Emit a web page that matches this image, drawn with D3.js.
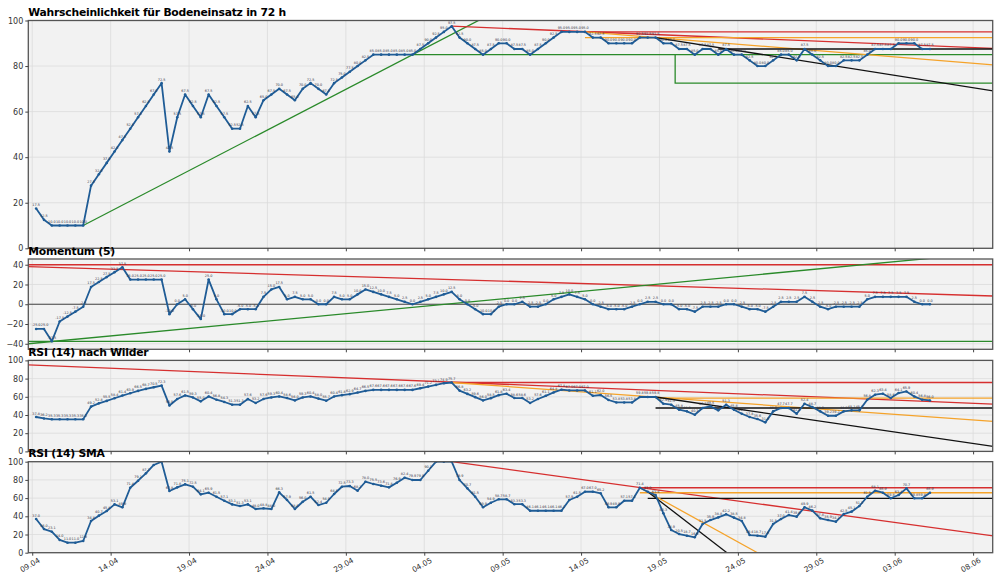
<!DOCTYPE html>
<html>
<head>
<meta charset="utf-8">
<script src="https://cdn.jsdelivr.net/npm/d3@7"></script>
<style>
    body { margin: 0; background: #fff; }
    svg { font-family: "DejaVu Sans", sans-serif; }
</style>
</head>
<body>
<div id="chart"></div>
<script>
const probability = [17.5, 12.5, 10, 10, 10, 10, 10, 27.5, 32.5, 37.5, 42.5, 47.5, 52.5, 57.5, 62.5, 67.5, 72.5, 42.5, 57.5, 67.5,
    62.5, 57.5, 67.5, 62.5, 57.5, 52.5, 52.5, 62.5, 57.5, 65, 67.5, 70, 67.5, 65, 70, 72.5, 70, 67.5, 72.5, 75,
    77.5, 80, 82.5, 85, 85, 85, 85, 85, 85, 87.5, 90, 92.5, 95, 97.5, 92.5, 90, 87.5, 85, 87.5, 90,
    90, 87.5, 87.5, 85, 87.5, 90, 92.5, 95, 95, 95, 95, 92.5, 92.5, 90, 90, 90, 90, 92.5, 92.5, 92.5,
    90, 90, 87.5, 87.5, 85, 87.5, 87.5, 85, 87.5, 85, 85, 82.5, 80, 80, 82.5, 85, 85, 82.5, 87.5, 85,
    82.5, 80, 80, 82.5, 82.5, 82.5, 85, 87.5, 87.5, 87.5, 90, 90, 90, 87.5, 87.5];

const momentum = [-25, -25, -37.5, -17.5, -12.5, -7.5, -2.5, 17.5, 22.5, 27.5, 32.5, 37.5, 25, 25, 25, 25, 25, -10, 0, 5,
    -5, -15, 25, 5, -10, -10, -5, -5, -5, 7.5, 15, 17.5, 5, 7.5, 5, 5, 0, 0, 7.5, 5,
    5, 10, 15, 12.5, 10, 7.5, 5, 2.5, 0, 2.5, 5, 7.5, 10, 12.5, 5, 0, -5, -10, -10, -2.5,
    0, 0, 2.5, -2.5, -2.5, 0, 5, 7.5, 10, 7.5, 5, 0, -2.5, -5, -5, -5, -2.5, 0, 2.5, 2.5,
    0, 0, -5, -5, -7.5, -2.5, -2.5, -2.5, 0, 0, -2.5, -5, -5, -7.5, -2.5, 2.5, 2.5, 2.5, 7.5, 2.5,
    -2.5, -5, -2.5, -2.5, -2.5, -2.5, 5, 7.5, 7.5, 7.5, 7.5, 7.5, 2.5, 0, 0];

const rsiWilder = [37.8, 36.2, 35.3, 35.3, 35.3, 35.3, 35.3, 49.2, 52.8, 55.5, 58.4, 61.4, 63.9, 66.5, 68.7, 70.5, 72.3, 50.5, 57.6, 61.5,
    59.3, 55.0, 60.4, 56.8, 54.3, 51.3, 51.3, 57.6, 53.2, 57.6, 59.3, 60.4, 58.6, 56.0, 59.3, 60.4, 58.0, 55.7, 60.4, 61.8,
    62.9, 64.7, 66.5, 67.6, 67.6, 67.6, 67.6, 67.6, 67.6, 69.4, 71.2, 73.1, 74.9, 75.7, 66.8, 63.2, 59.6, 56.0, 58.5, 61.8,
    63.4, 58.6, 58.6, 53.2, 57.6, 61.1, 64.8, 67.8, 67.0, 67.0, 67.0, 61.1, 62.0, 56.5, 53.8, 53.8, 53.8, 59.8, 59.8, 59.8,
    52.4, 51.3, 45.8, 44.0, 40.3, 47.7, 49.5, 45.1, 51.3, 45.8, 41.4, 37.8, 35.6, 31.9, 44.0, 47.7, 47.7, 41.4, 52.4, 48.7,
    44.0, 39.2, 39.2, 44.0, 45.1, 45.1, 56.8, 62.3, 63.4, 58.6, 64.1, 65.9, 60.4, 56.8, 56.0];

const rsiSma = [37.0, 26.0, 23.1, 14.0, 11.0, 11.0, 12.9, 34.8, 40.7, 45.8, 53.1, 49.9, 71.4, 79.1, 87.2, 96.4, 100, 67.8, 71.8, 75.1,
    72.5, 64.1, 65.9, 61.5, 57.1, 53.1, 51.3, 53.1, 48.0, 48.8, 48.0, 66.3, 57.9, 48.0, 56.0, 61.5, 52.4, 54.9, 64.5, 72.5,
    73.3, 68.1, 78.0, 75.5, 73.6, 71.8, 76.9, 82.4, 79.9, 79.9, 90.1, 100, 100, 100, 79.9, 70.7, 61.5, 49.9, 54.9, 58.7,
    58.7, 53.3, 53.3, 46.1, 46.1, 46.1, 46.1, 46.1, 57.9, 61.5, 67.0, 67.0, 65.2, 49.9, 49.9, 57.1, 57.1, 71.4, 67.0, 63.4,
    43.3, 24.9, 20.5, 18.7, 16.9, 31.5, 35.9, 38.8, 42.2, 38.5, 34.8, 19.4, 18.7, 17.6, 31.5, 37.0, 41.4, 39.6, 49.9, 46.2,
    37.8, 35.9, 34.1, 42.5, 45.1, 51.3, 61.5, 68.1, 65.9, 59.8, 63.4, 70.7, 59.8, 59.8, 65.9];

const tickLabels = ["09.04", "14.04", "19.04", "24.04", "29.04", "04.05", "09.05", "14.05", "19.05", "24.05", "29.05", "03.06", "08.06"];

const titles = ["Wahrscheinlichkeit für Bodeneinsatz in 72 h", "Momentum (5)", "RSI (14) nach Wilder", "RSI (14) SMA"];

// trend lines: [index of 12h step, value]
const trendLines = [
    {panel: 0, color: "green", pts: [[6, 10], [60, 106.4]]},
    {panel: 0, color: "green", pts: [[48, 85], [124, 85]]},
    {panel: 0, color: "green", pts: [[81.5, 85], [81.5, 72.5], [124, 72.5]]},
    {panel: 0, color: "red", pts: [[53, 97.5], [124, 87.5]]},
    {panel: 0, color: "red", pts: [[70, 95], [124, 95]]},
    {panel: 0, color: "orange", pts: [[70, 92.5], [124, 92.5]]},
    {panel: 0, color: "orange", pts: [[70, 95], [124, 80]]},
    {panel: 0, color: "black", pts: [[87, 87.5], [124, 87.5]]},
    {panel: 0, color: "black", pts: [[79, 92.5], [124, 68]]},

    {panel: 1, color: "zero", pts: [[-2, 0], [124, 0]]},
    {panel: 1, color: "red", pts: [[-2, 40], [124, 40]]},
    {panel: 1, color: "red", pts: [[-1, 38], [124, 7.9]]},
    {panel: 1, color: "green", pts: [[-1, -40], [124, 54]]},
    {panel: 1, color: "green", pts: [[-2, -37.5], [124, -37.5]]},

    {panel: 2, color: "red", pts: [[-1, 95], [124, 51.3]]},
    {panel: 2, color: "red", pts: [[53, 75.7], [124, 75.7]]},
    {panel: 2, color: "orange", pts: [[79, 58.6], [124, 58.6]]},
    {panel: 2, color: "orange", pts: [[53, 75.7], [124, 31.8]]},
    {panel: 2, color: "black", pts: [[79, 47.7], [124, 47.7]]},
    {panel: 2, color: "black", pts: [[79, 59.8], [124, 3]]},

    {panel: 3, color: "red", pts: [[53, 100], [124, 16.1]]},
    {panel: 3, color: "red", pts: [[77, 71.4], [124, 71.4]]},
    {panel: 3, color: "orange", pts: [[77, 65.9], [124, 65.9]]},
    {panel: 3, color: "black", pts: [[78, 59.8], [124, 59.8]]},
    {panel: 3, color: "orange", pts: [[77, 71.4], [92, 0]]},
    {panel: 3, color: "black", pts: [[78, 67], [88.1, 0]]}
];

const colors = {green: "#2a8a2a", red: "#d62f2f", orange: "#f5a32a", black: "#111111", zero: "#444444"};

const t0 = new Date(2024, 3, 9, 6);
const timeAt = i => new Date(t0.getTime() + i * 12 * 3600 * 1000);
const parseTick = d3.timeParse("%d.%m.%Y");

const width = 1000, height = 581;
const left = 28.3, right = 992.7;

const x = d3.scaleTime()
    .domain([new Date(2024, 3, 8, 18), new Date(2024, 5, 9, 6)])
    .range([left, right]);

const tickDates = tickLabels.map(d => parseTick(d + ".2024"));

const panels = [
    {values: probability, top: 20.5, bottom: 248.3, domain: [0, 100], ticks: d3.range(0, 101, 20)},
    {values: momentum, top: 259, bottom: 349.3, domain: [-45.6, 45.8], ticks: d3.range(-40, 41, 20)},
    {values: rsiWilder, top: 360.4, bottom: 451.4, domain: [0, 100], ticks: d3.range(0, 101, 20)},
    {values: rsiSma, top: 461.7, bottom: 552.7, domain: [0, 100], ticks: d3.range(0, 101, 20)}
];

const svg = d3.select("#chart")
    .append("svg")
    .attr("width", width)
    .attr("height", height);

svg.append("rect").attr("width", width).attr("height", height).attr("fill", "#fff");

panels.forEach(function(p, k) {
    const y = d3.scaleLinear().domain(p.domain).range([p.bottom, p.top]);
    const g = svg.append("g");

    g.append("rect")
        .attr("x", left).attr("y", p.top)
        .attr("width", right - left).attr("height", p.bottom - p.top)
        .attr("fill", "#f2f2f2");

    // grid
    g.selectAll(".vgrid").data(tickDates).enter().append("line")
        .attr("x1", d => x(d)).attr("x2", d => x(d))
        .attr("y1", p.top).attr("y2", p.bottom)
        .attr("stroke", "#dcdcdc").attr("stroke-width", 0.8);
    g.selectAll(".hgrid").data(p.ticks).enter().append("line")
        .attr("x1", left).attr("x2", right)
        .attr("y1", d => y(d)).attr("y2", d => y(d))
        .attr("stroke", "#dcdcdc").attr("stroke-width", 0.8);

    g.append("clipPath").attr("id", "clip" + k)
        .append("rect")
        .attr("x", left).attr("y", p.top)
        .attr("width", right - left).attr("height", p.bottom - p.top);

    const plot = g.append("g").attr("clip-path", "url(#clip" + k + ")");

    const tline = d3.line().x(d => x(timeAt(d[0]))).y(d => y(d[1]));
    trendLines.filter(d => d.panel === k).forEach(function(t) {
        plot.append("path")
            .attr("d", tline(t.pts))
            .attr("fill", "none")
            .attr("stroke", colors[t.color])
            .attr("stroke-width", t.color === "zero" ? 1.1 : 1.3);
    });

    const line = d3.line().x((d, i) => x(timeAt(i))).y(d => y(d));
    plot.append("path")
        .attr("d", line(p.values))
        .attr("fill", "none")
        .attr("stroke", "#1f5c96")
        .attr("stroke-width", 1.8)
        .attr("stroke-linejoin", "round");

    plot.selectAll(".dot").data(p.values).enter().append("circle")
        .attr("cx", (d, i) => x(timeAt(i)))
        .attr("cy", d => y(d))
        .attr("r", 1.3)
        .attr("fill", "#1f5c96");

    plot.selectAll(".lbl").data(p.values).enter().append("text")
        .attr("x", (d, i) => x(timeAt(i)))
        .attr("y", d => y(d) - 2.5)
        .attr("text-anchor", "middle")
        .attr("font-size", 3.4)
        .attr("fill", "#334")
        .text(d => d.toFixed(1));

    // frame
    g.append("rect")
        .attr("x", left).attr("y", p.top)
        .attr("width", right - left).attr("height", p.bottom - p.top)
        .attr("fill", "none")
        .attr("stroke", "#555").attr("stroke-width", 1.3);

    // y axis
    const ya = g.append("g")
        .attr("transform", "translate(" + left + ",0)")
        .call(d3.axisLeft(y).tickValues(p.ticks).tickSize(3).tickPadding(2));
    ya.select(".domain").remove();
    ya.selectAll("line").attr("stroke", "#444");
    ya.selectAll("text").attr("font-size", 8).attr("fill", "#333").attr("font-family", "DejaVu Sans");

    // x tick marks
    const xa = g.append("g")
        .attr("transform", "translate(0," + p.bottom + ")")
        .call(d3.axisBottom(x).tickValues(tickDates).tickSize(3).tickFormat(""));
    xa.select(".domain").remove();
    xa.selectAll("line").attr("stroke", "#444");

    g.append("text")
        .attr("x", left)
        .attr("y", p.top - 4.5)
        .attr("font-size", 10.8)
        .attr("letter-spacing", -0.25)
        .attr("font-weight", "bold")
        .attr("fill", "#000")
        .text(titles[k]);

    if (k === panels.length - 1) {
        g.selectAll(".xlbl").data(tickDates).enter().append("text")
            .attr("transform", d => "translate(" + (x(d) - 1) + "," + (p.bottom + 14.5) + ") rotate(-30)")
            .attr("text-anchor", "middle")
            .attr("font-size", 7.5)
            .attr("fill", "#333")
            .text((d, i) => tickLabels[i]);
    }
});
</script>
</body>
</html>
